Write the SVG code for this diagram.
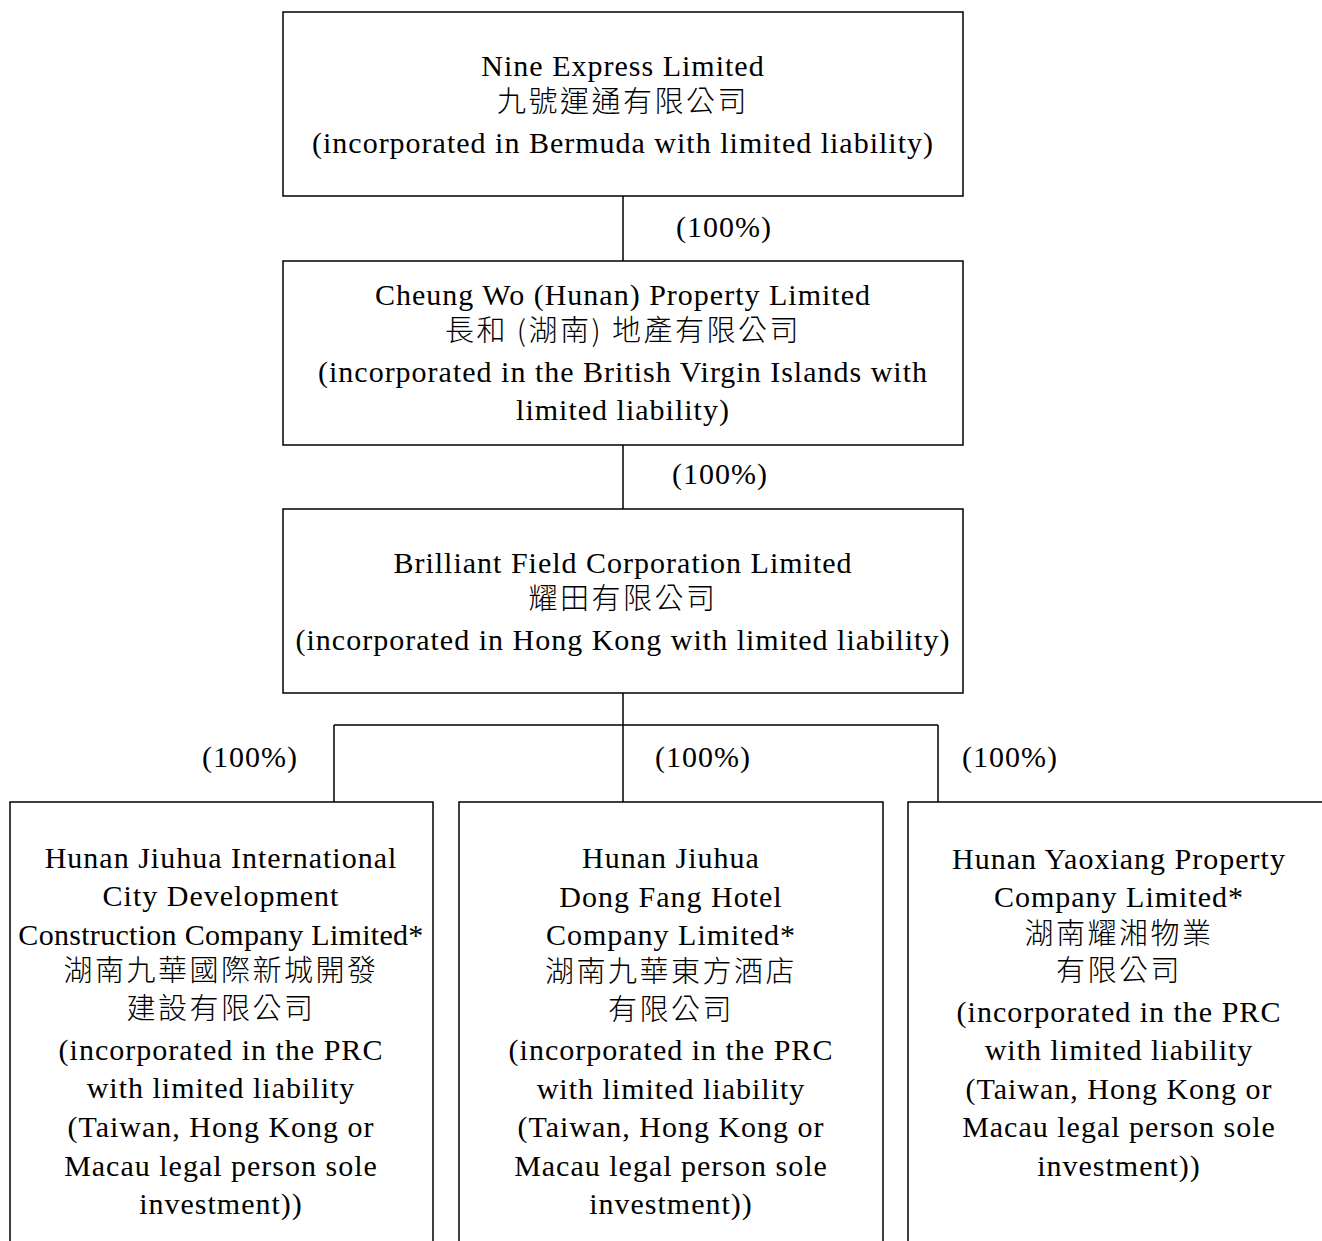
<svg xmlns="http://www.w3.org/2000/svg" width="1322" height="1241" viewBox="0 0 1322 1241">
<style>
.box{fill:#fff;stroke:#000;stroke-width:1.5}
.t{font-family:"Liberation Serif","Times New Roman",serif;font-size:30px;letter-spacing:1px;fill:#000;text-anchor:middle}
.c{font-family:"Noto Sans CJK TC","Noto Sans CJK SC",sans-serif;font-size:29px;font-weight:300;letter-spacing:2.5px;fill:#000;text-anchor:middle}
.ln{stroke:#000;stroke-width:1.5;fill:none}
</style>
<rect width="1322" height="1241" fill="#fff"/>
<g id="connectors">
<path class="ln" d="M623 196V261M623 445V509M623 693V725M334 725H938M334 725V802M623 725V802M938 725V802"/>
<text class="t" x="724" y="237">(100%)</text>
<text class="t" x="720" y="484">(100%)</text>
<text class="t" x="250" y="767">(100%)</text>
<text class="t" x="703" y="767">(100%)</text>
<text class="t" x="1010" y="767">(100%)</text>
</g>
<g id="n1">
<rect class="box" x="283" y="12" width="680" height="184"/>
<text class="t" x="623" y="76">Nine Express Limited</text>
<text class="c" x="623" y="112">九號運通有限公司</text>
<text class="t" x="623" y="153">(incorporated in Bermuda with limited liability)</text>
</g>
<g id="n2">
<rect class="box" x="283" y="261" width="680" height="184"/>
<text class="t" x="623" y="305">Cheung Wo (Hunan) Property Limited</text>
<text class="c" x="623" y="341">長和 (湖南) 地產有限公司</text>
<text class="t" x="623" y="382">(incorporated in the British Virgin Islands with</text>
<text class="t" x="623" y="420">limited liability)</text>
</g>
<g id="n3">
<rect class="box" x="283" y="509" width="680" height="184"/>
<text class="t" x="623" y="573">Brilliant Field Corporation Limited</text>
<text class="c" x="623" y="609">耀田有限公司</text>
<text class="t" x="623" y="650">(incorporated in Hong Kong with limited liability)</text>
</g>
<g id="n4">
<rect class="box" x="10" y="802" width="423" height="460"/>
<text class="t" x="221" y="868">Hunan Jiuhua International</text>
<text class="t" x="221" y="906">City Development</text>
<text class="t" x="221" y="945" style="letter-spacing:0.3px">Construction Company Limited*</text>
<text class="c" x="221" y="981">湖南九華國際新城開發</text>
<text class="c" x="221" y="1019">建設有限公司</text>
<text class="t" x="221" y="1060">(incorporated in the PRC</text>
<text class="t" x="221" y="1098">with limited liability</text>
<text class="t" x="221" y="1137">(Taiwan, Hong Kong or</text>
<text class="t" x="221" y="1176">Macau legal person sole</text>
<text class="t" x="221" y="1214">investment))</text>
</g>
<g id="n5">
<rect class="box" x="459" y="802" width="424" height="460"/>
<text class="t" x="671" y="868">Hunan Jiuhua</text>
<text class="t" x="671" y="907">Dong Fang Hotel</text>
<text class="t" x="671" y="945">Company Limited*</text>
<text class="c" x="671" y="982">湖南九華東方酒店</text>
<text class="c" x="671" y="1020">有限公司</text>
<text class="t" x="671" y="1060">(incorporated in the PRC</text>
<text class="t" x="671" y="1099">with limited liability</text>
<text class="t" x="671" y="1137">(Taiwan, Hong Kong or</text>
<text class="t" x="671" y="1176">Macau legal person sole</text>
<text class="t" x="671" y="1214">investment))</text>
</g>
<g id="n6">
<rect class="box" x="908" y="802" width="440" height="460" stroke-width="2"/>
<text class="t" x="1119" y="869">Hunan Yaoxiang Property</text>
<text class="t" x="1119" y="907">Company Limited*</text>
<text class="c" x="1119" y="944">湖南耀湘物業</text>
<text class="c" x="1119" y="981">有限公司</text>
<text class="t" x="1119" y="1022">(incorporated in the PRC</text>
<text class="t" x="1119" y="1060">with limited liability</text>
<text class="t" x="1119" y="1099">(Taiwan, Hong Kong or</text>
<text class="t" x="1119" y="1137">Macau legal person sole</text>
<text class="t" x="1119" y="1176">investment))</text>
</g>
</svg>
